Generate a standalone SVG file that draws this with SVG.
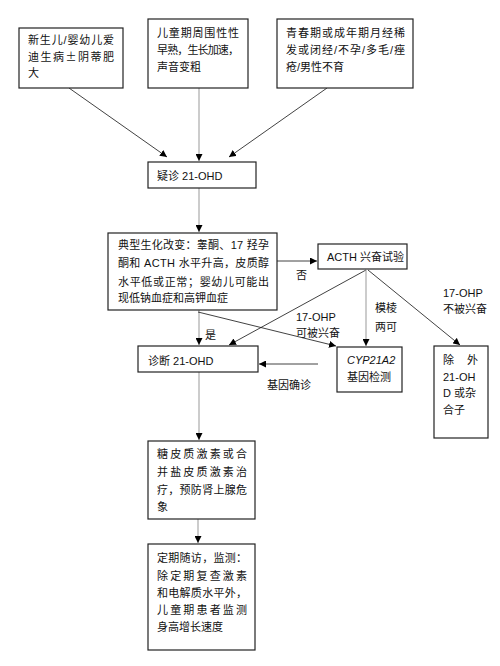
<svg xmlns="http://www.w3.org/2000/svg" width="500" height="666" viewBox="0 0 500 666">
<defs>
<marker id="ah" viewBox="0 0 10 10" refX="10" refY="5" markerWidth="7" markerHeight="7" orient="auto" markerUnits="userSpaceOnUse">
<path d="M0,0 L10,5 L0,10 z" fill="#000"/>
</marker>
</defs>
<style>
text{font-family:"Liberation Sans","Noto Sans CJK SC",sans-serif;font-size:11px;fill:#111}
.cjk{font-family:"Noto Sans CJK SC",sans-serif}
.box{fill:#fff;stroke:#222;stroke-width:1.2}
.g{stroke:#999;stroke-width:1;fill:none}
.k{stroke:#111;stroke-width:0.8;fill:none}
.it{font-style:italic}
</style>
<rect width="500" height="666" fill="#fff"/>
<g id="connectors">
<line class="k" x1="69" y1="88" x2="167" y2="157" marker-end="url(#ah)"/>
<line class="g" x1="199" y1="88" x2="199" y2="161" marker-end="url(#ah)"/>
<line class="k" x1="327" y1="88" x2="229" y2="157" marker-end="url(#ah)"/>
<line class="g" x1="199" y1="188" x2="199" y2="232" marker-end="url(#ah)"/>
<line class="k" x1="277" y1="261" x2="317" y2="261" stroke-width="1.2" marker-end="url(#ah)"/>
<line class="g" x1="199" y1="310" x2="199" y2="345" marker-end="url(#ah)"/>
<line class="k" x1="198" y1="312" x2="336" y2="346" marker-end="url(#ah)"/>
<line class="k" x1="366" y1="270" x2="229" y2="345" marker-end="url(#ah)"/>
<line class="g" x1="366" y1="270" x2="366" y2="346" marker-end="url(#ah)"/>
<line class="k" x1="368" y1="270" x2="460" y2="345" marker-end="url(#ah)"/>
<line class="k" x1="318" y1="364" x2="259" y2="364" stroke-width="1.2" marker-end="url(#ah)"/>
<line class="g" x1="199" y1="372" x2="199" y2="440" marker-end="url(#ah)"/>
<line class="g" x1="198" y1="510" x2="198" y2="543" marker-end="url(#ah)"/>
</g>
<g id="labels">
<text x="296" y="279">否</text>
<text x="205" y="339">是</text>
<text x="296" y="321">17-OHP</text>
<text x="296" y="337">可被兴奋</text>
<text x="375" y="312">模棱</text>
<text x="375" y="331">两可</text>
<text x="443" y="297">17-OHP</text>
<text x="443" y="313">不被兴奋</text>
<text x="267" y="389">基因确诊</text>
</g>
<g id="n1">
<rect class="box" x="19" y="28" width="104" height="60"/>
<text x="28" y="44" textLength="86" lengthAdjust="spacing">新生儿/婴幼儿爱</text>
<text class="cjk" x="28" y="61" textLength="86" lengthAdjust="spacing">迪生病±阴蒂肥</text>
<text x="28" y="77">大</text>
</g>
<g id="n2">
<rect class="box" x="148" y="19" width="100" height="69"/>
<text x="157" y="37" textLength="82" lengthAdjust="spacing">儿童期周围性性</text>
<text x="157" y="54" textLength="82" lengthAdjust="spacing">早熟，生长加速，</text>
<text x="157" y="71">声音变粗</text>
</g>
<g id="n3">
<rect class="box" x="277" y="19" width="136" height="69"/>
<text x="286" y="37" textLength="119" lengthAdjust="spacing">青春期或成年期月经稀</text>
<text x="286" y="54" textLength="119" lengthAdjust="spacing">发或闭经/不孕/多毛/痤</text>
<text x="286" y="71">疮/男性不育</text>
</g>
<g id="n4">
<rect class="box" x="148" y="162" width="108" height="26"/>
<text x="157" y="180">疑诊 21-OHD</text>
</g>
<g id="n5">
<rect class="box" x="108" y="233" width="169" height="77"/>
<text x="118" y="249" textLength="151" lengthAdjust="spacing">典型生化改变：睾酮、17 羟孕</text>
<text x="118" y="267" textLength="151" lengthAdjust="spacing">酮和 ACTH 水平升高，皮质醇</text>
<text x="118" y="286" textLength="151" lengthAdjust="spacing">水平低或正常；婴幼儿可能出</text>
<text x="118" y="302">现低钠血症和高钾血症</text>
</g>
<g id="n6">
<rect class="box" x="318" y="244" width="89" height="25"/>
<text x="327" y="261">ACTH 兴奋试验</text>
</g>
<g id="n7">
<rect class="box" x="138" y="346" width="120" height="26"/>
<text x="148" y="365">诊断 21-OHD</text>
</g>
<g id="n8">
<rect class="box" x="337" y="347" width="65" height="45"/>
<text class="it" x="347" y="364">CYP21A2</text>
<text x="347" y="381">基因检测</text>
</g>
<g id="n9">
<rect class="box" x="434" y="346" width="54" height="92"/>
<text x="443" y="364" textLength="35" lengthAdjust="spacing">除外</text>
<text x="443" y="381">21-OH</text>
<text x="443" y="397">D 或杂</text>
<text x="443" y="414">合子</text>
</g>
<g id="n10">
<rect class="box" x="148" y="441" width="107" height="78"/>
<text x="157" y="458" textLength="90" lengthAdjust="spacing">糖皮质激素或合</text>
<text x="157" y="476" textLength="90" lengthAdjust="spacing">并盐皮质激素治</text>
<text x="157" y="494" textLength="90" lengthAdjust="spacing">疗，预防肾上腺危</text>
<text x="157" y="511">象</text>
</g>
<g id="n11">
<rect class="box" x="148" y="544" width="107" height="106"/>
<text x="157" y="562" textLength="90" lengthAdjust="spacing">定期随访，监测：</text>
<text x="157" y="580" textLength="90" lengthAdjust="spacing">除定期复查激素</text>
<text x="157" y="597" textLength="90" lengthAdjust="spacing">和电解质水平外，</text>
<text x="157" y="614" textLength="90" lengthAdjust="spacing">儿童期患者监测</text>
<text x="157" y="631">身高增长速度</text>
</g>
</svg>
